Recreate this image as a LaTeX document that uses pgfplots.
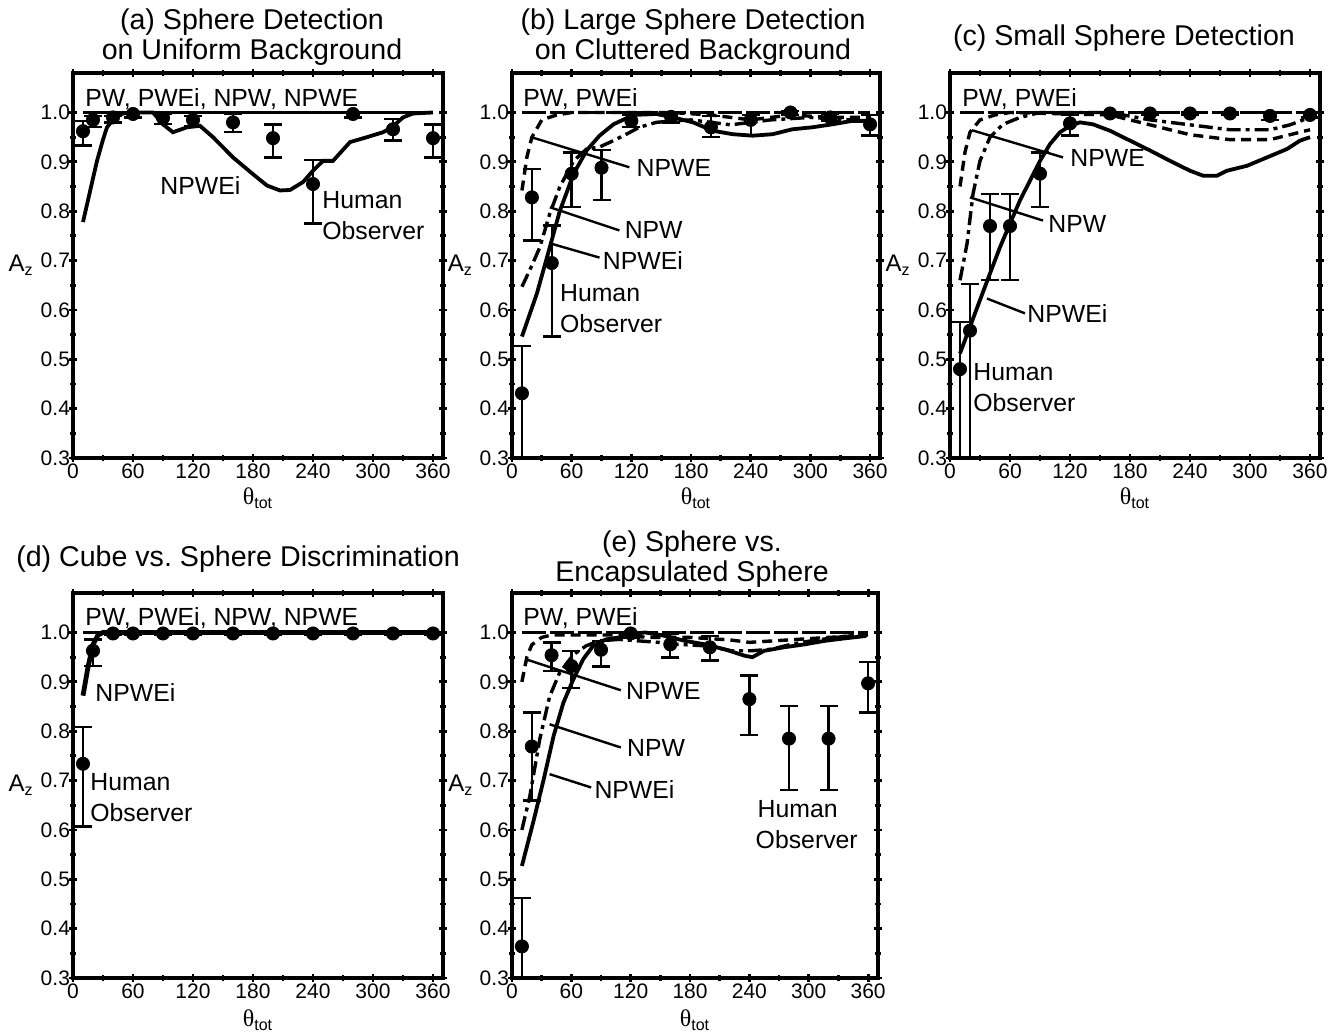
\documentclass[border=0pt]{standalone}
\usepackage{fontspec}
\setmainfont{Liberation Sans}
\newfontfamily\greekfont{Liberation Serif}
\usepackage{pgfplots}
\usepackage{pgfplotstable}
\pgfplotsset{compat=1.18}

\newcommand{\lab}{\fontsize{12.4}{14}\selectfont}
\newcommand{\tck}{\fontsize{10.5}{12}\selectfont}
\newcommand{\ttl}{\fontsize{14.3}{15}\selectfont}

\tikzset{
  lbl/.style={font=\lab, anchor=west, inner sep=0pt},
  ldr/.style={line width=1.2pt},
}

\pgfplotsset{
  panel/.style={
    scale only axis, width=185pt, height=192.5pt,
    xmin=0, xmax=370, ymin=0.3, ymax=1.08,
    xtick={0,60,...,360}, ytick={0.3,0.4,0.5,0.6,0.7,0.8,0.9,1.0},
    minor x tick num=1, minor y tick num=1,
    tick align=center, major tick length=4pt, minor tick length=3pt,
    every tick/.style={line width=1.4pt, black},
    axis line style={line width=2pt},
    ticklabel style={font=\tck},
    yticklabel style={xshift=4pt, /pgf/number format/.cd, fixed, fixed zerofill, precision=1},
    xticklabel style={yshift=2.5pt},
    /pgf/number format/assume math mode=true,
    ylabel={A\textsubscript{z}}, xlabel={{\greekfont θ}\textsubscript{tot}},
    label style={font=\fontsize{12}{14}\selectfont},
    ylabel style={rotate=-90, at={(axis description cs:-0.14,0.5)}, anchor=center},
    xlabel style={at={(axis description cs:0.5,-0.105)}, anchor=center},
  },
  npwei/.style={black, line width=1.9pt},
  npwe/.style={black, line width=1.7pt, dash pattern=on 5pt off 3pt},
  npw/.style={black, line width=1.7pt, dash pattern=on 7pt off 2.5pt on 2pt off 2.5pt},
  pw/.style={black, line width=1.7pt, dash pattern=on 12pt off 2pt},
  human/.style={only marks, mark=*, mark size=3.3pt, black,
    mark options={fill=black, draw=black},
    error bars/.cd, y dir=both, y explicit,
    error bar style={line width=1.2pt, black},
    error mark options={rotate=90, mark size=4.5pt, line width=1.2pt, black}},
}

% human observer tables: x, A_z, upper and lower end of error bar
\pgfplotstableread{
x y hi lo
10 0.962 0.983 0.933
20 0.985 0.993 0.970
40 0.990 0.993 0.980
60 0.997 1.000 0.990
90 0.989 0.997 0.977
120 0.985 0.993 0.973
160 0.980 0.997 0.960
200 0.948 0.976 0.909
240 0.855 0.904 0.775
280 0.997 1.000 0.990
320 0.966 0.987 0.943
360 0.948 0.976 0.909
}\humA
\pgfplotstableread{
x y hi lo
10 0.431 0.527 0.200
20 0.828 0.886 0.741
40 0.695 0.771 0.546
60 0.876 0.919 0.808
90 0.888 0.924 0.823
120 0.983 0.995 0.970
160 0.991 1.000 0.980
200 0.970 0.993 0.950
240 0.985 0.995 0.953
280 1.000 1.003 0.995
320 0.990 0.997 0.983
360 0.976 0.995 0.953
}\humB
\pgfplotstableread{
x y hi lo
10 0.480 0.576 0.200
20 0.558 0.652 0.200
40 0.770 0.835 0.660
60 0.770 0.835 0.660
90 0.876 0.919 0.808
120 0.978 0.995 0.953
160 0.998 1.000 0.995
200 0.998 1.000 0.995
240 0.998 1.000 0.995
280 0.998 1.000 0.995
320 0.993 1.000 0.985
360 0.995 1.000 0.990
}\humC
\pgfplotstableread{
x y hi lo
10 0.734 0.809 0.607
20 0.963 0.986 0.932
40 0.998 1.000 0.995
60 0.998 1.000 0.995
90 0.998 1.000 0.995
120 0.998 1.000 0.995
160 0.998 1.000 0.995
200 0.998 1.000 0.995
240 0.998 1.000 0.995
280 0.998 1.000 0.995
320 0.998 1.000 0.995
360 0.998 1.000 0.995
}\humD
\pgfplotstableread{
x y hi lo
10 0.364 0.462 0.200
20 0.769 0.838 0.660
40 0.954 0.980 0.922
60 0.932 0.963 0.888
90 0.965 0.983 0.931
120 0.998 1.000 0.990
160 0.976 0.997 0.949
200 0.970 0.993 0.943
240 0.865 0.913 0.792
280 0.785 0.851 0.681
320 0.785 0.851 0.681
360 0.897 0.940 0.838
}\humE

\newcommand{\humplot}[1]{\addplot[human] table[x=x, y=y,
  y error plus expr=\thisrow{hi}-\thisrow{y},
  y error minus expr=\thisrow{y}-\thisrow{lo}] {#1};}

\begin{document}
\begin{tikzpicture}
\path[use as bounding box] (0,0) rectangle (667pt,518pt);

%-----------------------------
% (a)
%-----------------------------
\begin{axis}[panel, at={(36.5pt,289pt)}, anchor=south west]
\addplot[pw] coordinates {(10,1.0) (360,1.0)};
\addplot[black, line width=1.4pt] coordinates {(10,1.0) (360,1.0)};
\addplot[npwei] coordinates {
 (10,0.778) (17,0.84) (24,0.902) (30,0.945) (34,0.97) (42,0.99) (50,0.998)
 (60,1.0) (80,1.0) (90,0.976) (100,0.96) (114,0.97) (127,0.973) (140,0.95)
 (160,0.909) (180,0.875) (194,0.852) (207,0.842) (217,0.843) (230,0.859)
 (240,0.882) (250,0.902) (260,0.902) (277,0.94) (294,0.95) (310,0.96)
 (319,0.97) (330,0.99) (340,0.998) (360,1.0)};
\humplot{\humA}
\node[lbl] at (axis cs:12,1.028) {PW, PWEi, NPW, NPWE};
\node[lbl] at (axis cs:87,0.852) {NPWEi};
\node[lbl] at (axis cs:249,0.822) {Human};
\node[lbl] at (axis cs:249,0.761) {Observer};
\end{axis}

%-----------------------------
% (b)
%-----------------------------
\begin{axis}[panel, width=184pt, at={(256pt,289pt)}, anchor=south west]
\addplot[pw] coordinates {(10,1.0) (360,1.0)};
\addplot[npwe] coordinates {
 (10,0.842) (15,0.91) (20,0.95) (30,0.985) (45,0.995) (60,1.0) (160,1.0)
 (200,0.995) (240,0.985) (280,0.995) (320,0.99) (360,0.99)};
\addplot[npw] coordinates {
 (10,0.647) (20,0.69) (28,0.727) (38,0.795) (48,0.849) (62,0.902) (75,0.926)
 (88,0.93) (102,0.943) (115,0.956) (128,0.97) (145,0.98) (162,0.983)
 (180,0.985) (220,0.975) (260,0.985) (300,0.99) (340,0.985) (360,0.98)};
\addplot[npwei] coordinates {
 (10,0.546) (25,0.633) (38,0.727) (48,0.80) (62,0.876) (75,0.923) (88,0.953)
 (102,0.976) (122,0.995) (145,0.997) (162,0.99) (182,0.98) (202,0.963)
 (222,0.956) (242,0.953) (262,0.956) (282,0.966) (302,0.97) (322,0.976)
 (342,0.983) (360,0.983)};
\humplot{\humB}
\draw[ldr] (axis cs:21,0.949) -- (axis cs:118,0.889);
\draw[ldr] (axis cs:38,0.808) -- (axis cs:108,0.761);
\draw[ldr] (axis cs:38,0.735) -- (axis cs:88,0.706);
\node[lbl] at (axis cs:11,1.028) {PW, PWEi};
\node[lbl] at (axis cs:125,0.887) {NPWE};
\node[lbl] at (axis cs:113,0.761) {NPW};
\node[lbl] at (axis cs:91,0.700) {NPWEi};
\node[lbl] at (axis cs:48,0.634) {Human};
\node[lbl] at (axis cs:48,0.573) {Observer};
\end{axis}

%-----------------------------
% (c)
%-----------------------------
\begin{axis}[panel, at={(475pt,289pt)}, anchor=south west]
\addplot[pw] coordinates {(10,1.0) (360,1.0)};
\addplot[npwe] coordinates {
 (10,0.85) (15,0.92) (20,0.96) (30,0.985) (45,0.995) (60,1.0) (160,0.995)
 (200,0.975) (240,0.955) (280,0.945) (320,0.945) (340,0.955) (360,0.965)};
\addplot[npw] coordinates {
 (10,0.66) (17,0.734) (23,0.835) (30,0.902) (40,0.95) (53,0.976) (70,0.99)
 (90,1.0) (160,1.0) (200,0.985) (240,0.975) (280,0.965) (320,0.965)
 (340,0.975) (360,0.99)};
\addplot[npwei] coordinates {
 (10,0.512) (20,0.566) (30,0.62) (40,0.674) (50,0.727) (60,0.775) (70,0.822)
 (80,0.862) (90,0.902) (100,0.936) (110,0.96) (120,0.973) (130,0.98)
 (143,0.976) (160,0.963) (180,0.943) (200,0.923) (220,0.902) (240,0.882)
 (253,0.872) (267,0.872) (277,0.882) (297,0.892) (317,0.909) (337,0.926)
 (350,0.943) (360,0.95)};
\humplot{\humC}
\draw[ldr] (axis cs:22,0.964) -- (axis cs:113,0.909);
\draw[ldr] (axis cs:20,0.828) -- (axis cs:93,0.781);
\draw[ldr] (axis cs:37,0.623) -- (axis cs:75,0.593);
\node[lbl] at (axis cs:12,1.028) {PW, PWEi};
\node[lbl] at (axis cs:120,0.907) {NPWE};
\node[lbl] at (axis cs:98,0.775) {NPW};
\node[lbl] at (axis cs:77,0.593) {NPWEi};
\node[lbl] at (axis cs:23,0.474) {Human};
\node[lbl] at (axis cs:23,0.413) {Observer};
\end{axis}

%-----------------------------
% (d)
%-----------------------------
\begin{axis}[panel, at={(36.5pt,29pt)}, anchor=south west,
  xlabel style={at={(axis description cs:0.5,-0.11)}}]
\addplot[black, line width=1.7pt] coordinates {(10,1.0) (360,1.0)};
\addplot[npwei, line width=2.4pt] coordinates {
 (10,0.872) (15,0.93) (20,0.975) (25,0.995) (30,1.0) (360,1.0)};
\humplot{\humD}
\node[lbl] at (axis cs:12,1.03) {PW, PWEi, NPW, NPWE};
\node[lbl] at (axis cs:22,0.879) {NPWEi};
\node[lbl] at (axis cs:17,0.696) {Human};
\node[lbl] at (axis cs:17,0.636) {Observer};
\end{axis}

%-----------------------------
% (e)
%-----------------------------
\begin{axis}[panel, width=183pt, at={(256pt,29pt)}, anchor=south west,
  xlabel style={at={(axis description cs:0.5,-0.11)}}]
\addplot[pw] coordinates {(10,1.0) (360,1.0)};
\addplot[npwe] coordinates {
 (10,0.90) (15,0.95) (20,0.975) (30,0.99) (40,0.995) (60,0.995) (100,0.995)
 (140,0.99) (180,0.99) (220,0.985) (240,0.98) (280,0.985) (320,0.99)
 (360,0.995)};
\addplot[npw] coordinates {
 (10,0.60) (18,0.668) (28,0.783) (38,0.87) (48,0.918) (62,0.955) (75,0.973)
 (88,0.983) (108,0.986) (128,0.983) (148,0.98) (168,0.976) (195,0.973)
 (222,0.963) (242,0.963) (262,0.966) (282,0.976) (302,0.983) (328,0.99)
 (356,0.997)};
\addplot[npwei] coordinates {
 (10,0.527) (22,0.62) (32,0.702) (42,0.79) (52,0.858) (62,0.905) (72,0.946)
 (82,0.973) (95,0.986) (108,0.99) (118,0.997) (135,1.0) (155,0.993)
 (175,0.983) (195,0.976) (215,0.966) (235,0.953) (243,0.95) (255,0.963)
 (275,0.97) (296,0.976) (316,0.983) (336,0.988) (358,0.993)};
\humplot{\humE}
\draw[ldr] (axis cs:15,0.945) -- (axis cs:110,0.883);
\draw[ldr] (axis cs:38,0.814) -- (axis cs:110,0.767);
\draw[ldr] (axis cs:38,0.713) -- (axis cs:80,0.686);
\node[lbl] at (axis cs:11,1.03) {PW, PWEi};
\node[lbl] at (axis cs:115,0.881) {NPWE};
\node[lbl] at (axis cs:116,0.767) {NPW};
\node[lbl] at (axis cs:83,0.682) {NPWEi};
\node[lbl] at (axis cs:248,0.642) {Human};
\node[lbl] at (axis cs:246,0.581) {Observer};
\end{axis}

% panel titles
\node[font=\ttl, align=center] at (126pt,499.5pt) {(a) Sphere Detection\\on Uniform Background};
\node[font=\ttl, align=center] at (346.5pt,499.5pt) {(b) Large Sphere Detection\\on Cluttered Background};
\node[font=\ttl] at (562pt,499pt) {(c) Small Sphere Detection};
\node[font=\ttl] at (119pt,238.5pt) {(d) Cube vs.\ Sphere Discrimination};
\node[font=\ttl, align=center] at (346pt,238.5pt) {(e) Sphere vs.\\Encapsulated Sphere};
\end{tikzpicture}
\end{document}
